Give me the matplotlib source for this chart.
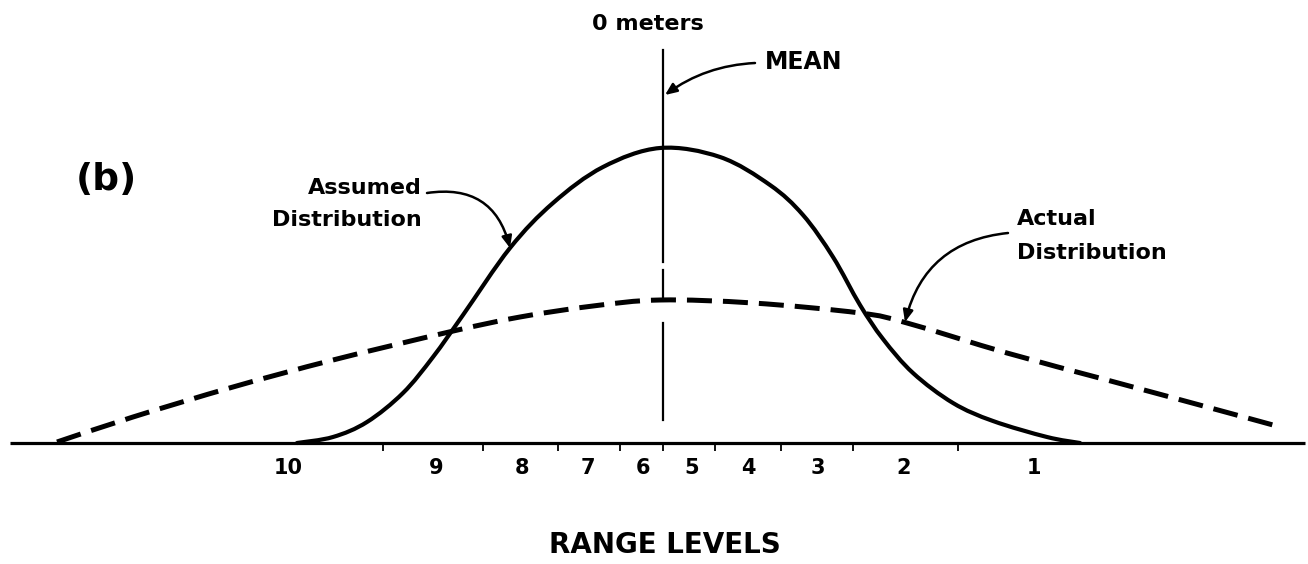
import matplotlib
matplotlib.use("Agg")
import numpy as np
import matplotlib.pyplot as plt
from matplotlib.path import Path
from matplotlib.patches import PathPatch

# ---------------- data (x: offset from the mean, y: relative density) -------------
assumed_x = [-366, -330, -296, -260, -230, -200, -153, -110, -60, -3, 57, 107, 140, 170, 197, 220, 250, 290, 330, 384, 417]
assumed_y = [0, 6, 21, 50, 86, 128, 195, 240, 276, 295, 286, 258, 228, 186, 138, 104, 70, 40, 22, 6, 0]

actual_x = [-606, -530, -430, -330, -214, -143, -70, -3, 90, 197, 244, 344, 444, 544, 610]
actual_y = [1, 26, 56, 83, 111, 126, 137, 143, 140, 130, 120, 90, 63, 36, 18]

level_bounds = [-280, -180, -105, -43, 0, 52, 118, 190, 295]
level_label_x = [-375, -227, -141, -75, -20, 29, 85, 155, 241, 371]
level_labels = ["10", "9", "8", "7", "6", "5", "4", "3", "2", "1"]

mean_x = 0

plt.rcParams["font.family"] = ["DejaVu Sans"]
plt.rcParams["font.weight"] = "bold"


def smooth_path(xs, ys):
    """Smooth drawing path through the given points (Catmull-Rom as cubic Beziers)."""
    P = np.column_stack([xs, ys]).astype(float)
    n = len(P)
    verts = [P[0]]
    codes = [Path.MOVETO]
    for i in range(n - 1):
        p0 = P[i - 1] if i > 0 else P[i]
        p1, p2 = P[i], P[i + 1]
        p3 = P[i + 2] if i + 2 < n else P[i + 1]
        c1 = p1 + (p2 - p0) / 6.0
        c2 = p2 - (p3 - p1) / 6.0
        verts += [c1, c2, p2]
        codes += [Path.CURVE4] * 3
    return Path(verts, codes)


fig = plt.figure(figsize=(13.08, 5.64), dpi=100)
ax = fig.add_axes([0, 0, 1, 1])
ax.set_xlim(-663, 645)
ax.set_ylim(-121, 443)
ax.axis("off")

# baseline
ax.plot([-653, 642], [0, 0], color="black", lw=2.3, solid_capstyle="butt")
# level boundary ticks
ax.vlines(level_bounds, -8, 0, color="black", lw=1.3)
for x, lab in zip(level_label_x, level_labels):
    ax.text(x, -25, lab, ha="center", va="center", fontsize=15, fontweight="bold")

# curves
ax.add_patch(PathPatch(smooth_path(assumed_x, assumed_y), fill=False, edgecolor="black",
                       lw=3.0, joinstyle="round", capstyle="round"))
ax.add_patch(PathPatch(smooth_path(actual_x, actual_y), fill=False, edgecolor="black",
                       lw=3.6, linestyle=(0, (5.0, 2.2)), capstyle="butt"))

# mean line (broken near the dashed curve)
for y0, y1 in [(181, 393), (146, 173), (23, 120)]:
    ax.plot([mean_x, mean_x], [y0, y1], color="black", lw=1.6)

# texts
ax.text(-15, 419, "0 meters", ha="center", va="center", fontsize=16, fontweight="bold")
ax.text(102, 381, "MEAN", ha="left", va="center", fontsize=17, fontweight="bold")
ax.text(-557, 263, "(b)", ha="center", va="center", fontsize=27, fontweight="bold")
ax.text(-241, 255, "Assumed", ha="right", va="center", fontsize=16, fontweight="bold")
ax.text(-241, 223, "Distribution", ha="right", va="center", fontsize=16, fontweight="bold")
ax.text(354, 224, "Actual", ha="left", va="center", fontsize=16, fontweight="bold")
ax.text(354, 190, "Distribution", ha="left", va="center", fontsize=16, fontweight="bold")
ax.text(2, -102, "RANGE LEVELS", ha="center", va="center", fontsize=20, fontweight="bold")

# arrows
arrow_kw = dict(arrowstyle="-|>,head_length=0.7,head_width=0.3", color="black", lw=1.8, shrinkA=0, shrinkB=0)
ax.annotate("", xy=(2, 348), xytext=(92, 380),
            arrowprops=dict(connectionstyle="arc3,rad=0.15", **arrow_kw))
ax.annotate("", xy=(-153, 195), xytext=(-236, 250),
            arrowprops=dict(connectionstyle="arc3,rad=-0.45", **arrow_kw))
ax.annotate("", xy=(242, 121), xytext=(345, 210),
            arrowprops=dict(connectionstyle="arc3,rad=0.35", **arrow_kw))

fig.savefig("out.png", dpi=100, facecolor="white")
